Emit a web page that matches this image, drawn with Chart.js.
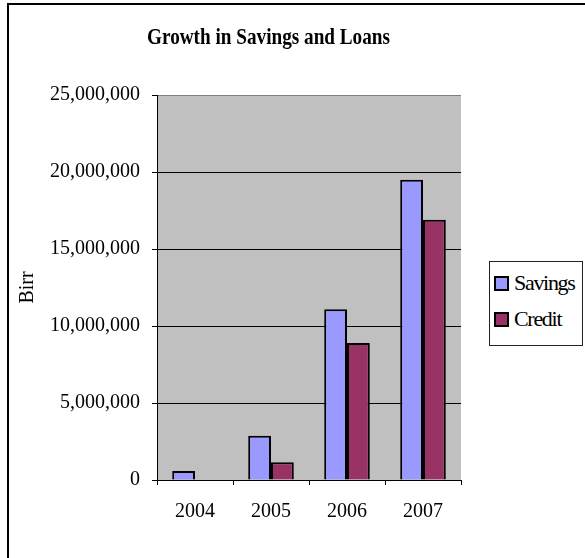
<!DOCTYPE html>
<html>
<head>
<meta charset="utf-8">
<script src="https://cdn.jsdelivr.net/npm/chart.js@4/dist/chart.umd.min.js"></script>
<style>
  html, body { margin: 0; padding: 0; background: #fff; }
  body { width: 585px; height: 558px; position: relative; overflow: hidden; }
  #marco { position: absolute; left: 7px; top: 3px; width: 700px; height: 700px; border: 2px solid #000; }
  #grafico { position: absolute; left: 0; top: 0; }
  #leyenda {
    position: absolute; left: 489px; top: 261px; width: 92px; height: 80px;
    border: 1px solid #222; background: #fff; padding-top: 3px; box-sizing: content-box;
    font-family: "Liberation Serif", serif; font-size: 22px; letter-spacing: -1.3px; color: #000;
  }
  #leyenda .item { display: flex; align-items: center; height: 36px; padding-left: 4px; }
  #leyenda .cuadro { width: 11px; height: 11px; border: 2px solid #000; margin-right: 5px; }
</style>
</head>
<body>
<div id="marco"></div>
<canvas id="grafico" width="585" height="558"></canvas>
<div id="leyenda"></div>
<script>
// Ahorro y crédito por año, en birr
const ANIOS = ["2004", "2005", "2006", "2007"];
const AHORRO = [580000, 2880000, 11080000, 19500000];
const CREDITO = [0, 1150000, 8900000, 16900000];
const MARCAS_Y = [0, 5000000, 10000000, 15000000, 20000000, 25000000];

const TITULO = "Growth in Savings and Loans";
const FUENTE = "'Liberation Serif', 'Times New Roman', serif";

// fondo gris del área de trazado
const fondoArea = {
  id: "fondoArea",
  beforeDraw(chart) {
    const { ctx, chartArea: a } = chart;
    ctx.save();
    ctx.fillStyle = "#c0c0c0";
    ctx.fillRect(a.left, a.top, a.right - a.left, a.bottom - a.top);
    ctx.restore();
  },
};

// título en negrita, algo comprimido a lo ancho
const tituloAngosto = {
  id: "tituloAngosto",
  afterDraw(chart) {
    const ctx = chart.ctx;
    ctx.save();
    ctx.font = "bold 24px " + FUENTE;
    ctx.fillStyle = "#000";
    ctx.textAlign = "center";
    ctx.textBaseline = "alphabetic";
    ctx.translate(268.5, 43.5);
    ctx.scale(0.8, 1);
    ctx.fillText(TITULO, 0, 0);
    ctx.restore();
  },
};

const grafico = new Chart(document.getElementById("grafico"), {
  type: "bar",
  data: {
    labels: ANIOS,
    datasets: [
      { label: "Savings", data: AHORRO, backgroundColor: "#9999ff", borderColor: "#000", borderWidth: 2, borderSkipped: "start" },
      { label: "Credit", data: CREDITO, backgroundColor: "#993366", borderColor: "#000", borderWidth: 2, borderSkipped: "start" },
    ],
  },
  options: {
    responsive: false,
    animation: false,
    events: [],
    layout: { padding: { left: 0, top: 95, right: 124, bottom: 0 } },
    datasets: { bar: { categoryPercentage: 0.6, barPercentage: 1.0 } },
    plugins: { legend: { display: false }, title: { display: false }, tooltip: { enabled: false } },
    scales: {
      x: {
        grid: {
          color: c => (c.index === ANIOS.length ? "#808080" : "rgba(0,0,0,0)"),
          tickColor: "#000",
          tickLength: 5,
        },
        border: { color: "#000", width: 1 },
        ticks: { color: "#000", font: { family: FUENTE, size: 20 }, padding: 15, maxRotation: 0 },
        afterFit(scale) { scale.height = 78; },
      },
      y: {
        min: 0,
        max: 25000000,
        afterBuildTicks(scale) { scale.ticks = MARCAS_Y.map(v => ({ value: v })); },
        grid: {
          color: c => (c.tick && c.tick.value === 25000000 ? "#808080" : "#000"),
          tickColor: "#000",
          tickLength: 5,
        },
        border: { color: "#000", width: 1 },
        ticks: {
          color: "#000",
          font: { family: FUENTE, size: 20 },
          padding: 12,
          callback: v => Number(v).toLocaleString("en-US"),
        },
        title: {
          display: true,
          text: "Birr",
          color: "#000",
          font: { family: FUENTE, size: 20 },
          padding: { top: 15.5, bottom: 0 },
        },
        afterFit(scale) { scale.width = 157; },
      },
    },
  },
  plugins: [fondoArea, tituloAngosto],
});

// leyenda en HTML, armada a partir de las series del gráfico
document.getElementById("leyenda").innerHTML = grafico.data.datasets
  .map(d => `<div class="item"><span class="cuadro" style="background:${d.backgroundColor}"></span>${d.label}</div>`)
  .join("");
</script>
</body>
</html>
